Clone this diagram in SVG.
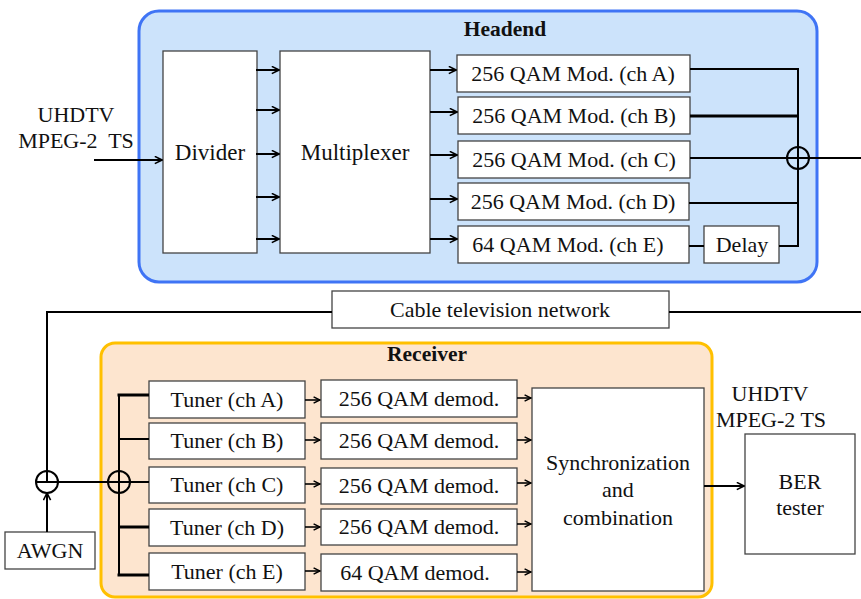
<svg xmlns="http://www.w3.org/2000/svg" width="861" height="599" viewBox="0 0 861 599">
<defs>
<style>
text{font-family:"Liberation Serif","Times New Roman",serif;font-size:22px;fill:#111;text-anchor:middle}
.t{font-weight:bold;font-size:21.5px}
.box{fill:#fff;stroke:#444;stroke-width:1.3}
.ln{fill:none;stroke:#000;stroke-width:2}
.thk{fill:none;stroke:#000;stroke-width:3}
.ar{fill:none;stroke:#000;stroke-width:2;marker-end:url(#ah)}
.sar{fill:none;stroke:#000;stroke-width:1.6;marker-end:url(#ahs)}
</style>
<marker id="ah" viewBox="0 0 10 10" refX="9" refY="5" markerWidth="9" markerHeight="9" markerUnits="userSpaceOnUse" orient="auto">
<path d="M1,1 L9,5 L1,9" fill="none" stroke="#000" stroke-width="1.8"/>
</marker>
<marker id="ahs" viewBox="0 0 10 10" refX="9" refY="5" markerWidth="8" markerHeight="8" markerUnits="userSpaceOnUse" orient="auto">
<path d="M1,1 L9,5 L1,9" fill="none" stroke="#000" stroke-width="1.8"/>
</marker>
</defs>

<g id="headend">
<rect x="139" y="11" width="678" height="271" rx="20" fill="#cce3fb" stroke="#3f74f5" stroke-width="3"/>
<text class="t" x="505" y="36">Headend</text>
</g>
<g id="receiver">
<rect x="101" y="343" width="611" height="254" rx="14" fill="#fde5cf" stroke="#ffc000" stroke-width="3"/>
<text class="t" x="427" y="361">Receiver</text>
</g>

<g id="input-label">
<text x="76" y="122">UHDTV</text>
<text x="76" y="148" xml:space="preserve">MPEG-2  TS</text>
</g>

<g id="divider"><rect class="box" x="163" y="51" width="94" height="202"/><text x="210" y="160" style="font-size:23px">Divider</text></g>
<g id="multiplexer"><rect class="box" x="280" y="51" width="150" height="202"/><text x="355" y="160" style="font-size:23px">Multiplexer</text></g>

<g id="modA"><rect class="box" x="457" y="55" width="233" height="37"/><text x="573" y="81">256 QAM Mod. (ch A)</text></g>
<g id="modB"><rect class="box" x="458" y="97" width="232" height="37"/><text x="574" y="123">256 QAM Mod. (ch B)</text></g>
<g id="modC"><rect class="box" x="458" y="141" width="232" height="37"/><text x="574" y="167">256 QAM Mod. (ch C)</text></g>
<g id="modD"><rect class="box" x="458" y="183" width="231" height="37"/><text x="573" y="209">256 QAM Mod. (ch D)</text></g>
<g id="modE"><rect class="box" x="458" y="226" width="231" height="37"/><text x="568" y="252">64 QAM Mod. (ch E)</text></g>
<g id="delay"><rect class="box" x="704" y="226" width="75" height="37"/><text x="742" y="252">Delay</text></g>
<g id="sum1"><circle cx="798" cy="158" r="11" fill="none" stroke="#000" stroke-width="2"/></g>

<g id="cable"><rect class="box" x="332" y="291" width="337" height="37"/><text x="500" y="317">Cable television network</text></g>
<g id="awgn"><rect class="box" x="5" y="532" width="90" height="37"/><text x="50" y="558">AWGN</text></g>
<g id="sum2"><circle cx="47" cy="482" r="11" fill="none" stroke="#000" stroke-width="2"/></g>
<g id="split"><circle cx="119" cy="482" r="11" fill="none" stroke="#000" stroke-width="2"/></g>

<g id="tunerA"><rect class="box" x="149" y="381" width="156" height="37"/><text x="227" y="407">Tuner (ch A)</text></g>
<g id="tunerB"><rect class="box" x="149" y="423" width="156" height="36"/><text x="227" y="448">Tuner (ch B)</text></g>
<g id="tunerC"><rect class="box" x="149" y="467" width="156" height="36"/><text x="227" y="492">Tuner (ch C)</text></g>
<g id="tunerD"><rect class="box" x="149" y="509" width="156" height="37"/><text x="227" y="535">Tuner (ch D)</text></g>
<g id="tunerE"><rect class="box" x="149" y="553" width="156" height="37"/><text x="227" y="579">Tuner (ch E)</text></g>

<g id="demodA"><rect class="box" x="321" y="380" width="196" height="37"/><text x="419" y="406">256 QAM demod.</text></g>
<g id="demodB"><rect class="box" x="321" y="423" width="196" height="36"/><text x="419" y="448">256 QAM demod.</text></g>
<g id="demodC"><rect class="box" x="321" y="468" width="196" height="36"/><text x="419" y="493">256 QAM demod.</text></g>
<g id="demodD"><rect class="box" x="321" y="509" width="196" height="36"/><text x="419" y="534">256 QAM demod.</text></g>
<g id="demodE"><rect class="box" x="321" y="554" width="196" height="37"/><text x="415" y="580">64 QAM demod.</text></g>

<g id="sync"><rect class="box" x="532" y="388" width="172" height="203"/>
<text x="618" y="470">Synchronization</text><text x="618" y="497">and</text><text x="618" y="525">combination</text></g>

<g id="output-label"><text x="770" y="401">UHDTV</text><text x="771" y="427">MPEG-2 TS</text></g>
<g id="ber"><rect class="box" x="745" y="434" width="110" height="120"/><text x="800" y="489">BER</text><text x="800" y="515">tester</text></g>

<g id="connectors">
<path class="ar" d="M94,160 H162"/>
<path class="ar" d="M256,70 H279"/>
<path class="ar" d="M256,110 H279"/>
<path class="ar" d="M256,154 H279"/>
<path class="ar" d="M256,197 H279"/>
<path class="ar" d="M256,239 H279"/>
<path class="ar" d="M430,70 H456"/>
<path class="ar" d="M430,112 H457"/>
<path class="ar" d="M430,155 H457"/>
<path class="ar" d="M430,199 H457"/>
<path class="ar" d="M430,239 H457"/>
<path class="ln" d="M690,69 H798 V246 H779"/>
<path class="thk" d="M690,116 H798"/>
<path class="ln" d="M690,158 H861"/>
<path class="ln" d="M689,203 H798"/>
<path class="ln" d="M689,246 H704"/>
<path class="ln" d="M861,312 H669"/>
<path class="ln" d="M332,312 H47 V482"/>
<path class="ar" d="M47,532 V493"/>
<path class="ln" d="M36,482 H149"/>
<path class="ln" d="M119,395 V575"/>
<path class="thk" d="M117.5,395 H149"/>
<path class="ln" d="M119,439 H149"/>
<path class="thk" d="M119,527 H149"/>
<path class="thk" d="M117.5,575 H149"/>
<path class="sar" d="M305,400 H320"/>
<path class="sar" d="M305,440 H320"/>
<path class="sar" d="M305,484 H320"/>
<path class="sar" d="M305,527 H320"/>
<path class="sar" d="M305,571 H320"/>
<path class="sar" d="M517,398 H531"/>
<path class="sar" d="M517,440 H531"/>
<path class="sar" d="M517,483 H531"/>
<path class="sar" d="M517,524 H531"/>
<path class="sar" d="M517,572 H531"/>
<path class="ar" d="M704,486 H744"/>
</g>
</svg>
